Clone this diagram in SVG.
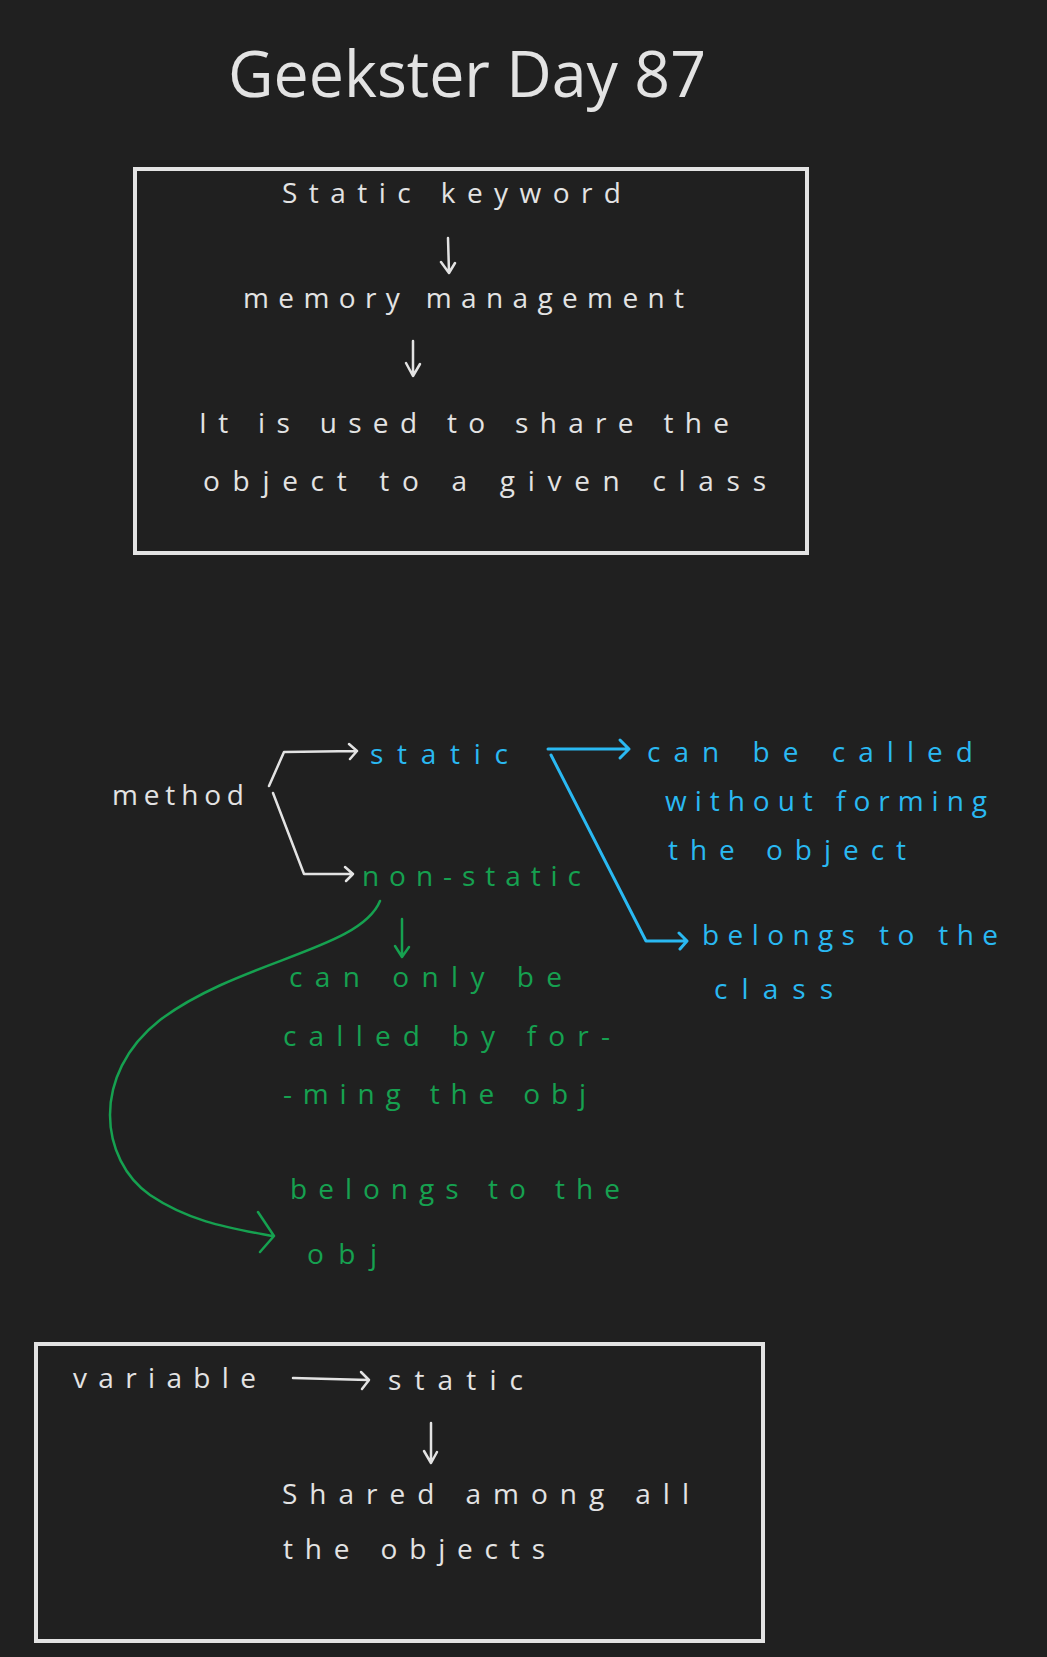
<svg xmlns="http://www.w3.org/2000/svg" width="1047" height="1657" viewBox="0 0 1047 1657">
<style>
.t{font-family:"Open Sans","Liberation Sans",sans-serif;font-size:28px}
.w{fill:#e3e3e3}
.b{fill:#2ab9f2}
.g{fill:#16a150}
.ttl{font-family:"Open Sans","Liberation Sans",sans-serif;font-size:64px;fill:#e3e3e3}
.box{fill:none;stroke:#e3e3e3;stroke-width:4}
.lw{fill:none;stroke:#e3e3e3;stroke-width:2.5;stroke-linecap:round;stroke-linejoin:round}
.lb{fill:none;stroke:#2ab9f2;stroke-width:3;stroke-linecap:round;stroke-linejoin:round}
.lg{fill:none;stroke:#16a150;stroke-width:2.5;stroke-linecap:round;stroke-linejoin:round}
</style>
<rect width="1047" height="1657" fill="#202020"/>
<text class="ttl" x="228" y="97" textLength="478" lengthAdjust="spacingAndGlyphs">Geekster Day 87</text>

<g id="box-static-keyword">
<rect class="box" x="135" y="169" width="672" height="384"/>
<text class="t w" x="282" y="203" textLength="339" lengthAdjust="spacing">Static keyword</text>
<text class="t w" x="243" y="308" textLength="441" lengthAdjust="spacing">memory management</text>
<text class="t w" x="199" y="433" textLength="530" lengthAdjust="spacing">It is used to share the</text>
<text class="t w" x="203" y="491" textLength="563" lengthAdjust="spacing">object to a given class</text>
</g>

<g id="method"><text class="t w" x="112" y="805" textLength="132" lengthAdjust="spacing">method</text></g>
<g id="static"><text class="t b" x="370" y="764" textLength="138" lengthAdjust="spacing">static</text></g>
<g id="non-static"><text class="t g" x="362" y="886" textLength="219" lengthAdjust="spacing">non-static</text></g>

<g id="static-called">
<text class="t b" x="647" y="762" textLength="326" lengthAdjust="spacing">can be called</text>
<text class="t b" x="665" y="811" textLength="322" lengthAdjust="spacing">without forming</text>
<text class="t b" x="668" y="860" textLength="238" lengthAdjust="spacing">the object</text>
</g>
<g id="static-belongs">
<text class="t b" x="702" y="945" textLength="296" lengthAdjust="spacing">belongs to the</text>
<text class="t b" x="714" y="999" textLength="119" lengthAdjust="spacing">class</text>
</g>
<g id="nonstatic-called">
<text class="t g" x="289" y="987" textLength="273" lengthAdjust="spacing">can only be</text>
<text class="t g" x="283" y="1046" textLength="327" lengthAdjust="spacing">called by for-</text>
<text class="t g" x="283" y="1104" textLength="303" lengthAdjust="spacing">-ming the obj</text>
</g>
<g id="nonstatic-belongs">
<text class="t g" x="290" y="1199" textLength="330" lengthAdjust="spacing">belongs to the</text>
<text class="t g" x="307" y="1264" textLength="70" lengthAdjust="spacing">obj</text>
</g>

<g id="box-variable">
<rect class="box" x="36" y="1344" width="727" height="297"/>
<text class="t w" x="73" y="1388" textLength="183" lengthAdjust="spacing">variable</text>
<text class="t w" x="388" y="1390" textLength="135" lengthAdjust="spacing">static</text>
<text class="t w" x="282" y="1504" textLength="407" lengthAdjust="spacing">Shared among all</text>
<text class="t w" x="283" y="1559" textLength="262" lengthAdjust="spacing">the objects</text>
</g>

<g id="connectors">
<path class="lw" d="M448,238 L449,272 M441,262 L449,273 L455,263"/>
<path class="lw" d="M413,341 L413,375 M406,363 L413,376 L420,364"/>
<path class="lw" d="M269,786 L284,752 L357,751 M349,744 L357,751 L350,759"/>
<path class="lw" d="M273,793 L304,874 L353,874 M345,867 L353,874 L346,881"/>
<path class="lb" d="M548,749 L629,749 M620,740 L629,749 L620,758"/>
<path class="lb" d="M551,755 L646,941 L686,941 M679,933 L687,941 L680,949"/>
<path class="lg" d="M402,919 L402,956 M395,946 L402,957 L409,947"/>
<path class="lg" d="M380,901 C360,950 240,960 160,1020 C90,1075 100,1160 150,1195 C190,1222 230,1228 272,1236 M258,1212 L274,1236 L260,1252"/>
<path class="lw" d="M293,1378 L368,1380 M361,1372 L369,1380 L362,1389"/>
<path class="lw" d="M431,1423 L431,1462 M424,1451 L431,1463 L437,1452"/>
</g>
</svg>
